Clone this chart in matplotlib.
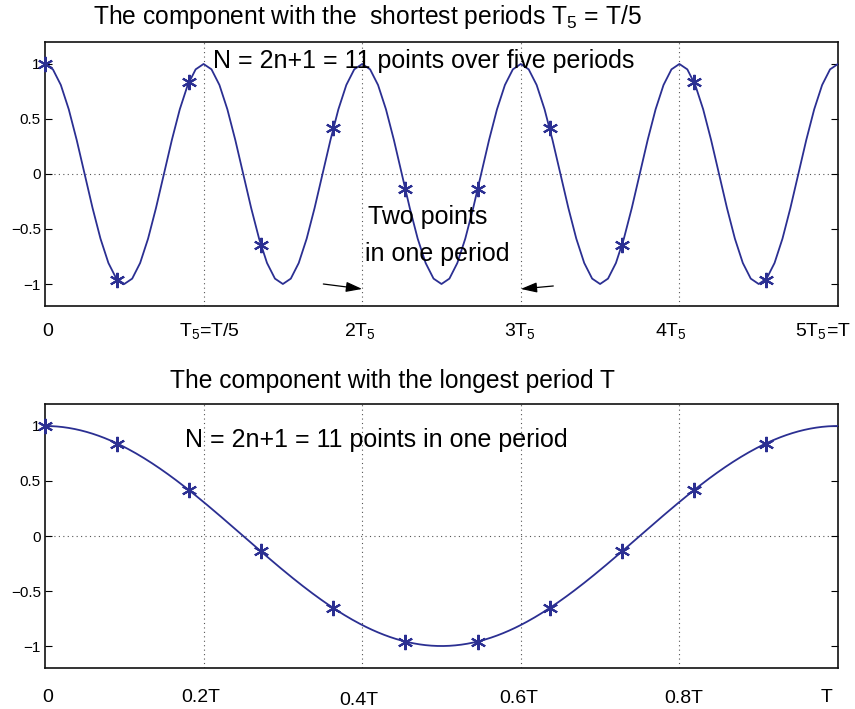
import numpy as np
import matplotlib
matplotlib.use('Agg')
import matplotlib.pyplot as plt

plt.rcParams['font.family'] = ['Liberation Sans', 'DejaVu Sans']
plt.rcParams['mathtext.fontset'] = 'custom'
plt.rcParams['mathtext.rm'] = 'Liberation Sans'
plt.rcParams['mathtext.it'] = 'Liberation Sans'
plt.rcParams['axes.unicode_minus'] = True

# 11 sample instants over one long period T (t = k/11)
sample_t = [0, 1/11, 2/11, 3/11, 4/11, 5/11, 6/11, 7/11, 8/11, 9/11, 10/11]
# samples of the short-period component (five periods)
short_vals = [1.0, -0.96, 0.84, -0.65, 0.42, -0.14, -0.14, 0.42, -0.65, 0.84, -0.96]
# samples of the long-period component (one period)
long_vals = [1.0, 0.84, 0.42, -0.14, -0.65, -0.96, -0.96, -0.65, -0.14, 0.42, 0.84]

# number of periods of each component inside T
cycles = [5, 1]

top_xlabels = ['0', r'T$_5$=T/5', r'2T$_5$', r'3T$_5$', r'4T$_5$', r'5T$_5$=T']
top_xlabel_pos = [0.003, 0.208, 0.397, 0.599, 0.79, 0.981]
bot_xlabels = ['0', '0.2T', '0.4T', '0.6T', '0.8T', 'T']
bot_xlabel_pos = [0.003, 0.197, 0.396, 0.598, 0.805, 0.986]
bot_xlabel_y = [-1.509, -1.509, -1.54, -1.52, -1.52, -1.509]

grid_x = [0.2, 0.4, 0.6, 0.8]
yticks = [-1, -0.5, 0, 0.5, 1]

BLUE = '#2b2f92'
TITLE_FS = 17.7
NOTE_FS = 18

fig = plt.figure(figsize=(8.55, 7.09), dpi=100)
ax1 = fig.add_axes([0.0526, 0.5684, 0.9275, 0.3724])
ax2 = fig.add_axes([0.0526, 0.0578, 0.9275, 0.3724])

t_top = np.linspace(0, 1, 101)
t_bot = np.linspace(0, 1, 401)
curves = [(ax1, t_top, cycles[0], short_vals), (ax2, t_bot, cycles[1], long_vals)]

for ax, tt, c, vals in curves:
    ax.plot(tt, np.cos(2 * np.pi * c * tt), color=BLUE, lw=1.3, zorder=3)
    ax.plot(sample_t, vals, linestyle='none', marker=(6, 2, 0), markersize=11,
            markeredgewidth=1.5, color=BLUE, zorder=4, clip_on=False)
    ax.set_xlim(0, 1)
    ax.set_ylim(-1.2, 1.2)
    ax.set_xticks(grid_x)
    ax.set_xticklabels([])
    ax.tick_params(axis='x', length=0)
    ax.set_yticks(yticks)
    ax.set_yticklabels(['\u22121', '\u22120.5', '0', '0.5', '1'])
    ax.tick_params(axis='y', direction='in', length=5, right=True, labelsize=11, pad=3)
    for x in grid_x:
        ax.axvline(x, color='#555555', lw=0.8, ls=(0, (1, 3)), zorder=1)
    ax.axhline(0, color='#555555', lw=0.8, ls=(0, (1, 3)), zorder=1)
    for s in ax.spines.values():
        s.set_linewidth(1.2)
        s.set_color('#111111')

# top panel texts
ax1.text(0.0605, 1.427, r'The component with the  shortest periods T$_5$ = T/5',
         fontsize=TITLE_FS, ha='left', va='center', clip_on=False)
ax1.text(0.212, 1.03, 'N = 2n+1 = 11 points over five periods',
         fontsize=NOTE_FS, ha='left', va='center')
ax1.text(0.407, -0.39, 'Two points', fontsize=NOTE_FS, ha='left', va='center')
ax1.text(0.404, -0.727, 'in one period', fontsize=NOTE_FS, ha='left', va='center')
arrow_style = dict(arrowstyle='-|>,head_length=0.7,head_width=0.22', color='black',
                   lw=0.9, mutation_scale=14, shrinkA=0, shrinkB=0)
ax1.annotate('', xy=(0.40, -1.045), xytext=(0.351, -1.0), arrowprops=arrow_style)
ax1.annotate('', xy=(0.60, -1.045), xytext=(0.641, -1.018), arrowprops=arrow_style)
for lab, x in zip(top_xlabels, top_xlabel_pos):
    ax1.text(x, -1.473, lab, fontsize=14, ha='center', va='baseline', clip_on=False)

# bottom panel texts
ax2.text(0.158, 1.41, 'The component with the longest period T',
         fontsize=TITLE_FS, ha='left', va='center', clip_on=False)
ax2.text(0.1765, 0.873, 'N = 2n+1 = 11 points in one period',
         fontsize=NOTE_FS, ha='left', va='center')
for lab, x, y in zip(bot_xlabels, bot_xlabel_pos, bot_xlabel_y):
    ax2.text(x, y, lab, fontsize=14, ha='center', va='baseline', clip_on=False)

fig.savefig('out.png', dpi=100, facecolor='white')
